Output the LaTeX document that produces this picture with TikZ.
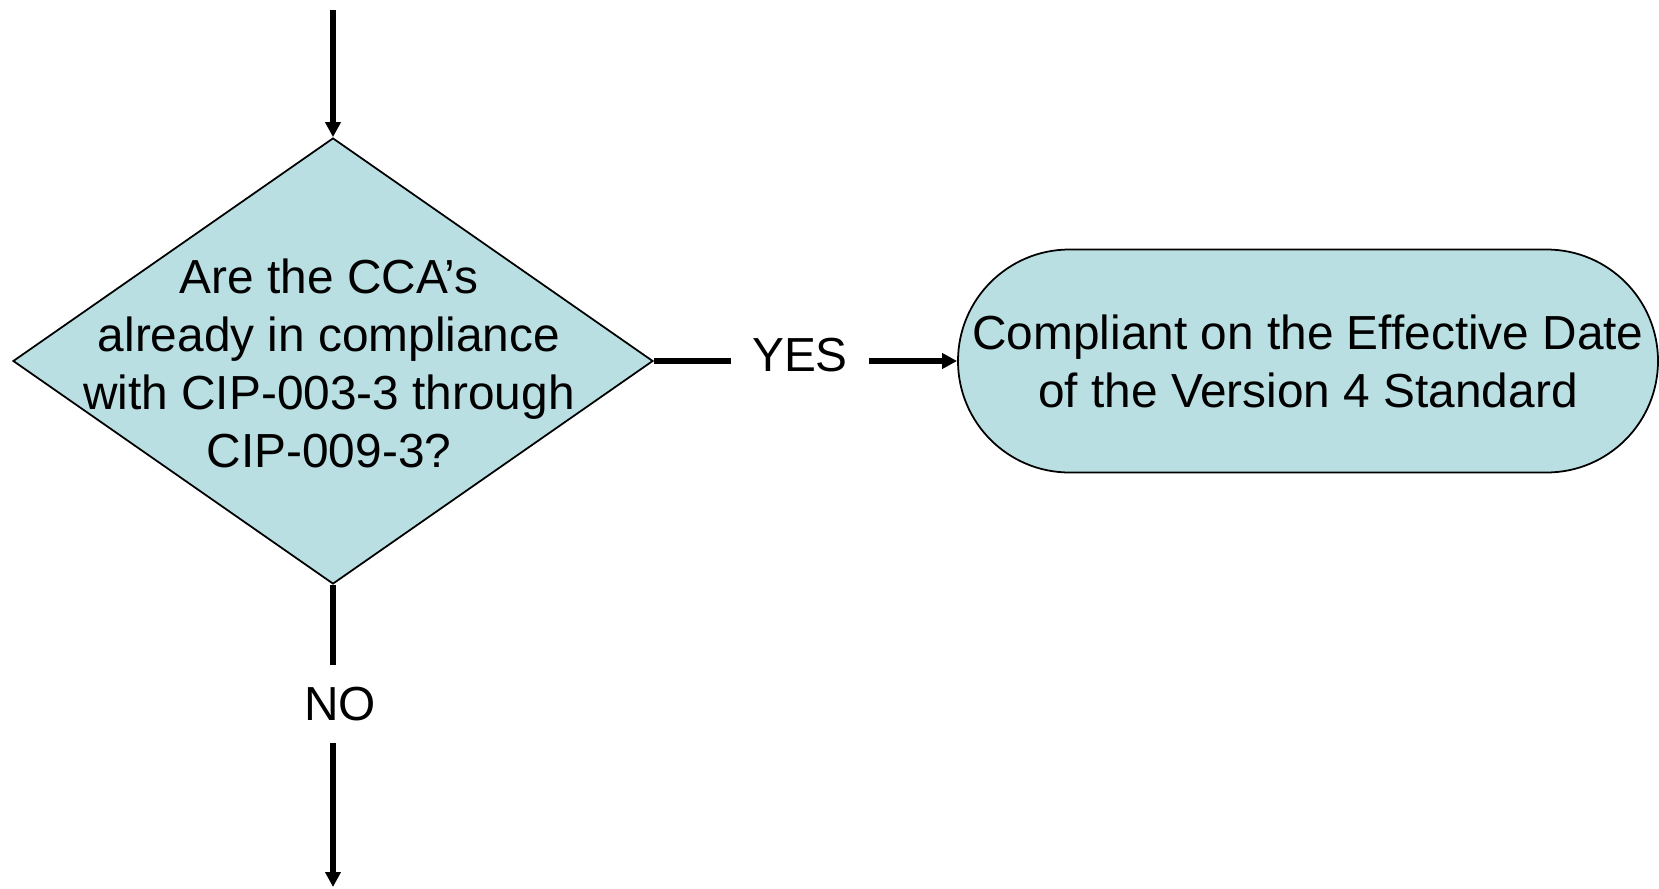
\documentclass[tikz,border=0pt]{standalone}
\usepackage{fontspec}
\setmainfont{Liberation Sans}
\usetikzlibrary{shapes.geometric, shapes.misc, arrows.meta, positioning}
\definecolor{boxfill}{RGB}{185,223,227}
\tikzset{
  decision/.style={diamond, minimum width=6.4cm, minimum height=4.46cm, inner sep=0pt,
    draw=black, line width=0.5pt, fill=boxfill},
  terminal/.style={rounded rectangle, minimum width=7cm, minimum height=2.23cm, inner sep=0pt,
    text centered, align=center, draw=black, line width=0.5pt, fill=boxfill,
    font=\fontsize{13.6pt}{16.5pt}\selectfont},
  qtext/.style={align=center, inner sep=0pt, font=\fontsize{13.6pt}{16.5pt}\selectfont},
  lbl/.style={inner xsep=2mm, inner ysep=2.1mm, font=\fontsize{13.6pt}{16.5pt}\selectfont},
  arr/.style={-{Triangle[length=1.5mm, width=1.5mm]}, line width=1.6pt, draw=black},
  line/.style={line width=1.6pt, draw=black},
}
\begin{document}
\begin{tikzpicture}
  \useasboundingbox (0,0) rectangle (16.59,8.88);
  \coordinate (entry) at (3.33,8.78);
  \coordinate (exit) at (3.33,0.01);
  \node[decision] (check) at (3.33,5.27) {};
  \node[qtext] (checktext) at (3.29,5.25) {Are the CCA’s\\already in compliance\\with CIP-003-3 through\\CIP-009-3?};
  \node[terminal] (done) at (13.08,5.27) {Compliant on the Effective Date\\of the Version 4 Standard};
  \node[lbl] (yes) at (8.00,5.33) {YES};
  \node[lbl] (no) at (3.40,1.84) {NO};

  \draw[arr] (entry) -- (check.north);
  \draw[line] (check.east) -- (check.east -| yes.west);
  \draw[arr] (check.east -| yes.east) -- (done.west);
  \draw[line] (check.south) -- (check.south |- no.north);
  \draw[arr] (check.south |- no.south) -- (exit);
\end{tikzpicture}
\end{document}
